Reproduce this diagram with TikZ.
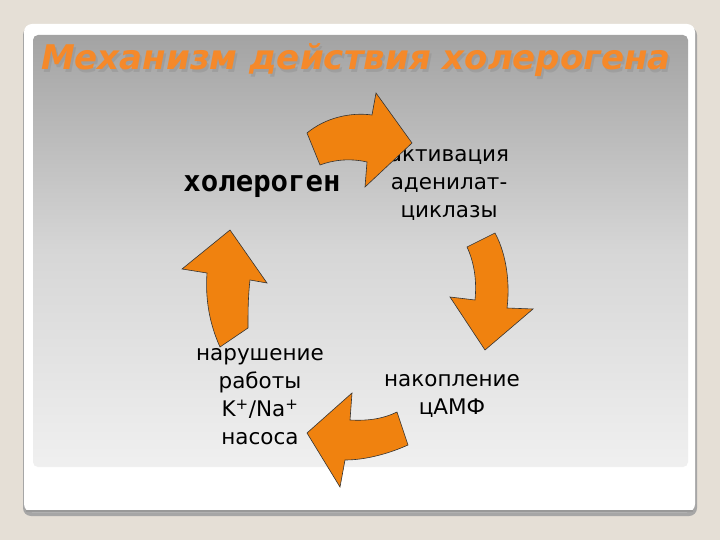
\documentclass[tikz,border=0pt]{standalone}
\usepackage{fontspec}
\setmainfont{DejaVu Sans}
\newfontfamily\monob{DejaVu Sans Mono}
\definecolor{bgbeige}{HTML}{E5DFD6}
\definecolor{orng}{HTML}{F0820F}
\definecolor{ttl}{HTML}{F5892A}
\begin{document}
\begin{tikzpicture}[x=1pt,y=-1pt,
  arr/.style={fill=orng,draw=black!80,line width=0.6pt,line join=miter},
  lbl/.style={align=center,font=\fontsize{21.5}{28}\selectfont,text=black}]
\useasboundingbox (0,0) rectangle (720,540);
\fill[bgbeige] (0,0) rectangle (720,540);
\fill[black!35,rounded corners=8pt] (23,27) rectangle (697,516);
\fill[white,rounded corners=8pt] (24,24) rectangle (695,512);
\draw[black!40,line width=1.5pt] (26,511) -- (693,511);
\shade[top color=black!36,bottom color=black!6,middle color=black!16,rounded corners=5pt] (33,35) rectangle (688,467);
% title
\node[font=\fontsize{34}{38}\selectfont\bfseries\itshape,text=black!45,opacity=0.4] at (358,63) {Механизм действия холерогена};
\node (title)[font=\fontsize{34}{38}\selectfont\bfseries\itshape,text=ttl] at (356,60) {Механизм действия холерогена};
% labels
\node (hol)[font=\fontsize{29}{32}\selectfont\monob\bfseries] at (262,186) {холероген};
\node (act)[lbl] at (449,185) {активация\\аденилат-\\циклазы};
\node (nak)[lbl] at (452,396) {накопление\\цАМФ};
\node (nar)[lbl] at (260,397) {нарушение\\работы\\K\textsuperscript{+}/Na\textsuperscript{+}\\насоса};
% arrows
\draw[arr] (307,133) .. controls (325,118) and (350,112) .. (372,115) -- (376,93) -- (412,143) -- (365,187) -- (367,162) .. controls (350,158) and (333,160) .. (320,165) -- cycle;
\draw[arr] (495,233) .. controls (507,255) and (510,285) .. (507,308) -- (533,309) -- (485,350) -- (450,297) -- (475,300) .. controls (477,280) and (474,262) .. (467,247) -- cycle;
\draw[arr] (408,445) .. controls (388,454) and (365,460) .. (345,460) -- (340,487) -- (307,433) -- (352,393) -- (350,420) .. controls (367,421) and (383,419) .. (397,412) -- cycle;
\draw[arr] (220,347) .. controls (210,325) and (205,300) .. (207,273) -- (182,269) -- (230,230) -- (267,283) -- (250,280) .. controls (248,297) and (248,313) .. (248,328) -- cycle;
\end{tikzpicture}
\end{document}
